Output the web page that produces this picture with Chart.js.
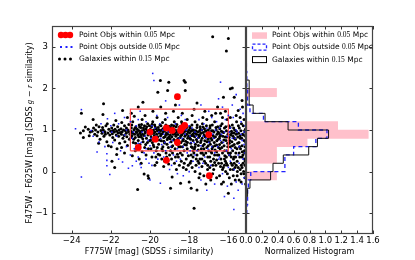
<!DOCTYPE html>
<html>
<head>
<meta charset="utf-8">
<script src="https://cdn.jsdelivr.net/npm/chart.js@4.4.0/dist/chart.umd.min.js"></script>
<style>
  body { margin: 0; background: #fff; }
  #wrap { position: relative; width: 415px; height: 260px; }
  #wrap canvas { position: absolute; left: 0; top: 0; }
</style>
</head>
<body>
<div id="wrap">
  <canvas id="scatter" width="415" height="260"></canvas>
  <canvas id="hist" width="415" height="260"></canvas>
</div>
<script>
// axis ticks
const xTicks = [-24, -22, -20, -18, -16];
const yTicks = [-1, 0, 1, 2, 3];
const histTicks = [0, 0.2, 0.4, 0.6, 0.8, 1.0, 1.2, 1.4, 1.6];

// red selection box (F775W range, colour range)
const boxX = [-21, -16];
const boxY = [0.5, 1.5];

// [F775W, F475W-F625W]
const pointObjsWithin = [
  [-18.6, 1.80], [-20.0, 0.95], [-19.16, 1.05], [-18.87, 0.99], [-18.44, 0.99], [-18.37, 1.05],
  [-18.23, 1.11], [-17.0, 0.89], [-19.73, 0.78], [-18.6, 0.70], [-20.6, 0.58], [-19.16, 0.27],
  [-16.97, -0.10]
];

const pointObjsOutside = [
  [-23.5, 1.49], [-23.8, 1.03], [-23.0, 0.99], [-22.6, 0.71], [-22.17, 1.27], [-23.5, -0.13],
  [-22.7, 0.47], [-22.2, 0.43], [-22.2, 0.27], [-22.2, 0.14], [-21.4, 0.23], [-22.05, -0.07],
  [-20.9, 0.14], [-21.1, 0.08], [-20.6, 0.35], [-20.5, 0.17], [-20.45, 0.1], [-20.2, 0.3],
  [-20.05, 0.2], [-19.86, 2.36], [-19.8, 2.19], [-16.4, 2.15], [-19.47, -0.28], [-15.72, -0.64],
  [-15.72, -0.91], [-22.9, 0.85], [-22.4, 0.95], [-22.0, 1.1], [-21.9, 0.7], [-21.6, 1.15],
  [-21.5, 0.5], [-21.3, 0.88], [-21.2, 0.6], [-21.0, 1.2], [-20.9, 0.8], [-20.8, 0.55],
  [-20.7, 1.1], [-20.6, 0.68], [-20.4, 0.95], [-20.3, 0.45], [-20.2, 1.2], [-20.1, 0.75],
  [-20.0, 0.62], [-19.9, 1.1], [-19.8, 0.45], [-19.7, 0.85], [-19.6, 0.3], [-19.5, 1.15],
  [-19.4, 0.65], [-19.3, 0.9], [-19.2, 0.5], [-19.1, 1.3], [-19.0, 0.7], [-18.9, 0.95],
  [-18.8, 0.4], [-18.7, 1.15], [-18.6, 0.55], [-18.5, 0.8], [-18.4, 1.35], [-18.3, 0.6],
  [-18.2, 0.9], [-18.1, 0.45], [-18.0, 1.1], [-17.9, 0.7], [-17.8, 0.25], [-17.7, 0.95],
  [-17.6, 0.5], [-17.5, 1.25], [-17.4, 0.62], [-17.3, 0.85], [-17.2, 0.35], [-17.1, 1.05],
  [-17.0, 0.7], [-16.9, 0.15], [-16.8, 0.9], [-16.7, 0.45], [-16.6, 1.2], [-16.5, 0.3],
  [-16.4, 0.75], [-16.3, -0.05], [-16.2, 0.95], [-16.1, 0.5], [-16.0, 1.35], [-15.9, 0.25],
  [-15.8, 0.8], [-15.7, 0.05], [-15.6, 1.0], [-15.5, 0.4], [-15.4, 1.5], [-15.3, -0.3],
  [-15.2, 0.65], [-15.15, 1.1], [-15.25, 0.3], [-21.8, 1.4], [-20.5, 1.45], [-19.2, 1.7],
  [-18.5, 1.6], [-17.4, 1.6], [-16.5, 1.75], [-15.6, 1.85], [-20.0, -0.2], [-18.3, -0.1],
  [-17.1, -0.45], [-16.7, -0.3], [-16.2, -0.6], [-15.5, -0.45], [-19.0, 0.05], [-18.0, 0.0],
  [-17.5, 0.1], [-16.0, 0.1], [-21.6, 0.3], [-20.7, 0.25], [-19.55, 0.95], [-18.95, 0.6],
  [-18.25, 1.05], [-17.65, 0.85], [-17.05, 0.55], [-16.45, 1.05], [-15.85, 0.55], [-15.35, 0.9],
  [-20.25, 0.85], [-19.35, 1.0], [-18.65, 0.25], [-17.95, 0.5], [-17.25, 1.15], [-16.55, 0.6],
  [-15.95, 0.95], [-15.45, 0.2], [-16.85, 1.3], [-16.15, 1.25], [-15.75, 1.3], [-15.25, 1.4],
  [-15.1, 0.0],
  [-21.7, 0.85], [-21.2, 1.0], [-20.85, 0.95], [-20.45, 0.7], [-20.15, 0.95], [-19.95, 0.8],
  [-19.75, 1.05], [-19.45, 0.8], [-19.25, 0.7], [-19.05, 0.95], [-18.85, 0.75], [-18.75, 1.0],
  [-18.55, 0.95], [-18.35, 0.8], [-18.15, 1.0], [-17.95, 0.85], [-17.85, 1.05], [-17.75, 0.7],
  [-17.55, 0.8], [-17.35, 1.0], [-17.15, 0.8], [-16.95, 0.95], [-16.75, 0.8], [-16.65, 1.0],
  [-16.35, 0.9], [-16.25, 0.7], [-16.05, 0.85], [-15.9, 1.05], [-15.65, 0.8], [-15.55, 0.95],
  [-15.3, 0.75], [-15.2, 0.95], [-21.0, 0.4], [-20.2, 0.55], [-19.3, 0.35], [-18.9, 0.15],
  [-18.45, 0.3], [-17.7, 0.4], [-17.3, 0.2], [-16.85, 0.6], [-16.45, 0.35], [-15.95, 0.4],
  [-15.45, 0.6], [-15.15, 0.45], [-22.5, 1.15], [-21.3, 1.3], [-20.6, 1.25], [-19.65, 1.35],
  [-18.2, 1.25], [-17.0, 1.45], [-16.3, 1.55], [-15.8, 1.6], [-15.35, 1.2], [-22.3, 0.6],
  [-21.95, 0.95], [-19.9, 0.15], [-18.6, -0.05], [-17.4, -0.2], [-16.05, -0.35], [-15.6, -0.25],
  [-15.2, -0.15]
];

const galaxies = [
  [-23.55, 0.93], [-23.4, 0.98], [-23.4, 0.82], [-23.3, 1.07], [-23.15, 1.02], [-23.05, 0.95], [-23.5, 1.40], [-23.1, 0.86],
  [-22.95, 0.97], [-22.9, 1.25], [-22.88, 1.05], [-22.82, 0.9], [-22.78, 1.0], [-22.7, 0.86], [-22.66, 0.95], [-22.6, 1.08],
  [-22.55, 0.78], [-22.5, 0.99], [-22.74, 1.12], [-22.62, 0.68],
  [-22.45, 0.92], [-22.37, 1.63], [-22.4, 1.37], [-22.38, 1.0], [-22.35, 0.85], [-22.3, 0.96], [-22.25, 1.1], [-22.2, 0.72],
  [-22.15, 0.93], [-22.1, 1.02], [-22.05, 0.88], [-22.0, 0.97], [-22.42, 1.06], [-22.28, 0.9], [-22.12, 0.62], [-22.18, 1.15],
  [-21.95, 1.05], [-21.92, 0.91], [-21.9, 0.82], [-21.88, 0.99], [-21.85, 1.12], [-21.82, 0.95], [-21.8, 0.76], [-21.78, 1.02],
  [-21.74, 1.23], [-21.72, 0.88], [-21.7, 0.97], [-21.68, 0.55], [-21.65, 1.08], [-21.62, 0.93], [-21.6, 0.85], [-21.58, 1.0],
  [-21.55, 0.68], [-21.52, 0.94], [-21.94, 0.25], [-21.8, 0.10], [-21.7, 0.41], [-21.98, 0.6],
  [-21.48, 1.03], [-21.46, 0.9], [-21.44, 1.18], [-21.4, 1.47], [-21.42, 0.96], [-21.38, 0.8], [-21.35, 1.0], [-21.32, 0.87],
  [-21.3, 1.1], [-21.28, 0.72], [-21.25, 0.98], [-21.22, 0.92], [-21.2, 1.05], [-21.18, 0.84], [-21.15, 0.63], [-21.12, 1.0],
  [-21.1, 0.95], [-21.08, 1.13], [-21.05, 0.78], [-21.02, 0.9], [-21.3, 0.45], [-21.15, 1.3], [-21.45, 0.58],
  [-20.98, 0.97], [-20.95, 1.05], [-20.92, 0.86], [-20.9, 0.94], [-20.88, 1.2], [-20.85, 0.7], [-20.82, 1.0], [-20.8, 1.33],
  [-20.78, 0.9], [-20.75, 0.82], [-20.72, 1.08], [-20.7, 0.96], [-20.68, 0.6], [-20.65, 1.02], [-20.62, 0.88], [-20.6, 1.55],
  [-20.6, 0.75], [-20.58, 0.99], [-20.55, 1.12], [-20.52, 0.92], [-20.63, -0.43], [-20.9, 0.38], [-20.75, 0.5], [-20.55, 0.3],
  [-20.95, 1.4],
  [-20.48, 0.95], [-20.46, 1.06], [-20.44, 0.83], [-20.42, 0.98], [-20.4, 1.25], [-20.38, 0.9], [-20.36, 1.67], [-20.35, 0.72],
  [-20.32, 1.0], [-20.3, -0.06], [-20.3, 0.87], [-20.28, 1.1], [-20.25, 0.93], [-20.22, 0.65], [-20.2, 1.03], [-20.18, 0.8],
  [-20.15, 0.97], [-20.12, 1.15], [-20.1, -0.1], [-20.1, 0.88], [-20.07, -0.16], [-20.05, 0.99], [-20.02, 0.74], [-20.4, 0.48],
  [-20.2, 0.4], [-20.45, 0.2], [-20.25, 1.35], [-20.08, 0.55],
  [-19.98, 1.02], [-19.96, 0.9], [-19.94, 0.83], [-19.92, 1.08], [-19.9, 0.96], [-19.88, 0.7], [-19.86, 1.2], [-19.84, 0.92],
  [-19.82, 1.0], [-19.8, 0.6], [-19.78, 0.87], [-19.76, 1.12], [-19.74, 0.95], [-19.72, 0.78], [-19.7, 1.03], [-19.68, 0.5],
  [-19.66, 0.9], [-19.64, 1.3], [-19.62, 0.98], [-19.6, 1.91], [-19.6, 0.84], [-19.58, 1.06], [-19.56, 0.66], [-19.54, 0.93],
  [-19.52, 1.0], [-19.47, 2.19], [-19.9, 0.35], [-19.75, 0.15], [-19.58, 0.42], [-19.85, 1.45], [-19.65, 0.22], [-19.95, 0.55],
  [-19.48, 0.97], [-19.46, 0.86], [-19.44, 1.1], [-19.42, 0.74], [-19.4, 1.0], [-19.38, 0.91], [-19.36, 1.18], [-19.34, 0.6],
  [-19.32, 0.95], [-19.3, 0.82], [-19.28, 1.05], [-19.26, 0.69], [-19.24, 0.99], [-19.22, 1.25], [-19.2, 0.88], [-19.18, 0.45],
  [-19.16, 0.93], [-19.14, 1.07], [-19.12, 0.77], [-19.1, 1.95], [-19.1, 0.9], [-19.08, 1.02], [-19.06, 0.58], [-19.04, 2.15],
  [-19.04, 0.96], [-19.02, 0.84], [-19.4, 0.3], [-19.3, 0.12], [-19.2, 1.4], [-19.15, 0.35], [-19.45, 1.55], [-19.05, 0.18],
  [-19.35, 0.5],
  [-18.98, 1.0], [-18.96, 0.88], [-18.95, -0.40], [-18.94, 0.95], [-18.92, 0.72], [-18.9, 1.12], [-18.88, 0.84], [-18.87, -0.13],
  [-18.86, 0.98], [-18.84, 0.62], [-18.82, 1.05], [-18.8, 0.9], [-18.78, 0.77], [-18.76, 1.2], [-18.74, 0.93], [-18.72, 0.55],
  [-18.7, 1.0], [-18.68, 0.85], [-18.66, 1.08], [-18.64, 0.68], [-18.62, 0.96], [-18.6, 0.42], [-18.58, 0.89], [-18.56, 1.3],
  [-18.54, 0.8], [-18.52, 1.02], [-18.9, 0.3], [-18.75, 0.2], [-18.65, 0.05], [-18.55, 0.35], [-18.8, 1.45], [-18.7, 1.6],
  [-18.95, 0.5], [-18.6, 0.65],
  [-18.48, 0.94], [-18.46, 0.82], [-18.44, -0.28], [-18.44, 1.06], [-18.42, 0.7], [-18.4, 0.98], [-18.38, 0.88], [-18.36, 1.15],
  [-18.34, 0.6], [-18.32, 0.92], [-18.3, 0.78], [-18.28, 1.03], [-18.26, 2.19], [-18.26, 0.5], [-18.24, 0.96], [-18.22, 0.85],
  [-18.2, 2.15], [-18.2, 1.1], [-18.18, 0.73], [-18.16, 0.99], [-18.14, 0.64], [-18.12, 0.9], [-18.1, 1.25], [-18.08, 0.8],
  [-18.06, 0.95], [-18.04, 0.38], [-18.02, 1.0], [-18.2, 1.95], [-18.0, -0.25], [-18.4, 0.25], [-18.3, 0.1], [-18.15, 0.3],
  [-18.05, 0.15], [-18.35, 1.4], [-18.45, 0.45], [-18.25, 0.2], [-18.1, 0.55],
  [-17.98, 0.93], [-17.96, 0.8], [-17.94, 1.04], [-17.92, 0.68], [-17.9, -0.40], [-17.9, 0.97], [-17.88, 0.87], [-17.86, 1.12],
  [-17.84, 0.58], [-17.82, 0.9], [-17.8, 0.75], [-17.78, 1.0], [-17.75, -0.88], [-17.76, 0.45], [-17.74, 0.94], [-17.72, 0.84],
  [-17.7, 1.2], [-17.68, 0.66], [-17.66, 0.98], [-17.64, 0.3], [-17.62, 0.89], [-17.6, -0.44], [-17.6, 1.06], [-17.58, 0.72],
  [-17.56, 0.95], [-17.54, 0.52], [-17.52, 0.82], [-17.95, 0.2], [-17.85, 0.1], [-17.8, 0.35], [-17.7, 0.0], [-17.65, 0.15],
  [-17.55, 0.25], [-17.85, 1.35], [-17.75, 1.5], [-17.6, 1.65], [-17.9, 0.4], [-17.7, 0.6], [-17.5, -0.15],
  [-17.48, 0.97], [-17.46, 0.86], [-17.44, 1.08], [-17.42, 0.7], [-17.4, 0.92], [-17.38, 0.55], [-17.36, 1.0], [-17.34, 0.8],
  [-17.32, 1.15], [-17.3, 0.62], [-17.28, 0.94], [-17.26, 0.4], [-17.24, 0.88], [-17.22, 1.03], [-17.2, 0.74], [-17.18, 0.97],
  [-17.16, 0.2], [-17.14, 0.85], [-17.12, 1.1], [-17.1, 0.58], [-17.08, 0.91], [-17.06, 0.05], [-17.04, 0.78], [-17.02, 1.0],
  [-17.45, 0.3], [-17.35, 0.12], [-17.25, -0.1], [-17.15, -0.3], [-17.05, 0.35], [-17.3, 1.3], [-17.2, 1.45], [-17.1, 1.25],
  [-17.4, 0.45], [-17.0, 0.5], [-17.45, -0.05], [-17.22, 0.25],
  [-16.98, 0.94], [-16.96, 0.83], [-16.95, 0.1], [-16.94, 1.05], [-16.92, 0.66], [-16.9, 0.9], [-16.88, 0.48], [-16.86, 0.98],
  [-16.84, 0.76], [-16.82, 1.12], [-16.8, 3.24], [-16.8, 0.6], [-16.78, 0.87], [-16.76, 0.3], [-16.74, 0.95], [-16.72, 0.7],
  [-16.7, 1.2], [-16.68, 0.52], [-16.66, 0.84], [-16.64, 0.15], [-16.62, 1.0], [-16.6, 0.64], [-16.58, 0.9], [-16.56, 0.4],
  [-16.54, 1.08], [-16.52, 0.78], [-16.9, -0.2], [-16.8, -0.05], [-16.7, 0.22], [-16.6, -0.15], [-16.85, 1.35], [-16.65, 1.4],
  [-16.55, 1.55], [-16.75, 0.05], [-16.95, 0.35], [-16.6, 0.28], [-16.5, 0.58], [-16.85, 0.45],
  [-16.48, 0.92], [-16.46, 0.8], [-16.44, 1.03], [-16.42, 0.55], [-16.4, 0.88], [-16.38, 0.3], [-16.36, 0.97], [-16.34, 0.7],
  [-16.32, 1.15], [-16.3, 0.45], [-16.28, 0.85], [-16.26, 0.1], [-16.25, 1.79], [-16.24, 0.94], [-16.22, 0.62], [-16.2, 1.05],
  [-16.18, 0.38], [-16.16, 0.83], [-16.14, 0.0], [-16.12, 0.75], [-16.1, 2.9], [-16.1, 0.98], [-16.08, 0.5], [-16.06, 1.25],
  [-16.04, 0.68], [-16.02, 0.9], [-16.0, 3.2], [-16.0, -0.52], [-16.45, -0.1], [-16.35, 0.2], [-16.25, -0.25], [-16.15, 0.25],
  [-16.05, -0.05], [-16.4, 1.4], [-16.3, 1.3], [-16.2, 0.15], [-16.1, 0.35], [-16.45, 0.65], [-16.35, -0.3], [-16.15, 1.45],
  [-16.05, 0.15],
  [-15.98, 0.95], [-15.96, 0.82], [-15.94, 0.4], [-15.92, 1.06], [-15.9, 1.99], [-15.9, 0.6], [-15.88, 0.88], [-15.86, 0.2],
  [-15.84, 0.97], [-15.82, 0.72], [-15.8, 2.01], [-15.8, 1.12], [-15.78, 0.5], [-15.76, 0.85], [-15.74, 0.3], [-15.72, 0.93],
  [-15.7, 1.79], [-15.7, 0.65], [-15.68, 1.0], [-15.66, 0.1], [-15.64, 0.78], [-15.62, 0.45], [-15.6, 0.9], [-15.58, 1.2],
  [-15.56, 0.55], [-15.54, 0.0], [-15.52, 0.83], [-15.5, 1.47], [-15.95, -0.15], [-15.85, -0.3], [-15.75, 0.05], [-15.65, -0.2],
  [-15.55, 0.25], [-15.9, 1.3], [-15.6, 1.35], [-15.7, 0.35], [-15.8, 0.15], [-15.95, 0.68], [-15.55, -0.1], [-15.65, 0.58],
  [-15.48, 0.92], [-15.46, 0.7], [-15.44, 1.05], [-15.42, 0.35], [-15.4, 0.86], [-15.38, 0.55], [-15.36, 0.98], [-15.34, 0.15],
  [-15.32, 0.8], [-15.3, 1.71], [-15.3, 0.62], [-15.28, 1.55], [-15.28, 0.9], [-15.26, 0.4], [-15.24, 1.1], [-15.22, 0.0],
  [-15.2, 0.75], [-15.18, 0.5], [-15.16, 0.95], [-15.14, 0.25], [-15.12, 0.85], [-15.45, -0.2], [-15.35, -0.05], [-15.25, 0.2],
  [-15.15, -0.15], [-15.4, 1.3], [-15.2, 1.25], [-15.3, 0.1], [-15.45, 0.45], [-15.15, 0.6],
  [-20.97, 0.82], [-20.93, 1.12], [-20.87, 0.92], [-20.83, 0.78], [-20.77, 1.04], [-20.73, 0.68], [-20.67, 0.94], [-20.57, 0.84],
  [-20.53, 1.07], [-20.51, 0.65], [-20.47, 0.88], [-20.43, 1.13], [-20.37, 0.79], [-20.33, 1.05], [-20.27, 0.58], [-20.23, 0.96],
  [-20.17, 1.08], [-20.13, 0.7], [-20.09, 0.91], [-20.03, 1.1],
  [-19.97, 0.76], [-19.93, 0.98], [-19.89, 1.14], [-19.83, 0.64], [-19.79, 0.94], [-19.73, 1.07], [-19.69, 0.82], [-19.63, 0.58],
  [-19.59, 0.99], [-19.53, 0.76], [-19.49, 1.12], [-19.43, 0.9], [-19.39, 0.55], [-19.33, 1.03], [-19.29, 0.73], [-19.23, 0.84],
  [-19.19, 1.12], [-19.13, 0.66], [-19.09, 0.81], [-19.03, 1.09], [-19.5, 0.4], [-19.25, 0.25], [-19.7, 0.35], [-19.0, 0.4],
  [-18.97, 0.79], [-18.93, 1.06], [-18.89, 0.6], [-18.83, 0.93], [-18.79, 1.1], [-18.73, 0.74], [-18.69, 0.9], [-18.63, 1.13],
  [-18.59, 0.78], [-18.53, 0.6], [-18.49, 1.08], [-18.43, 0.86], [-18.39, 1.2], [-18.33, 0.74], [-18.29, 0.95], [-18.23, 0.65],
  [-18.19, 0.88], [-18.13, 1.06], [-18.09, 0.7], [-18.03, 0.85], [-18.85, 0.45], [-18.5, 0.15], [-18.35, 0.4], [-18.15, 0.05],
  [-18.7, 0.35], [-18.45, 0.6],
  [-17.97, 1.08], [-17.93, 0.78], [-17.89, 0.6], [-17.83, 1.0], [-17.79, 0.86], [-17.73, 0.55], [-17.69, 0.92], [-17.63, 0.77],
  [-17.59, 1.12], [-17.53, 0.63], [-17.49, 0.88], [-17.43, 1.02], [-17.39, 0.75], [-17.33, 0.45], [-17.29, 1.07], [-17.23, 0.66],
  [-17.19, 0.84], [-17.13, 0.98], [-17.09, 0.72], [-17.03, 0.62], [-17.8, 0.5], [-17.6, 0.4], [-17.35, 0.3], [-17.15, 0.45],
  [-17.9, 0.25], [-17.5, 0.2], [-17.25, 0.55], [-17.05, 0.15],
  [-16.97, 0.72], [-16.93, 1.1], [-16.89, 0.8], [-16.83, 0.55], [-16.79, 0.98], [-16.73, 0.82], [-16.69, 0.62], [-16.63, 1.06],
  [-16.59, 0.74], [-16.53, 0.95], [-16.49, 0.4], [-16.43, 0.85], [-16.39, 1.1], [-16.33, 0.58], [-16.29, 0.95], [-16.23, 0.76],
  [-16.19, 0.5], [-16.13, 1.08], [-16.09, 0.83], [-16.03, 0.6], [-16.9, 0.25], [-16.7, 0.4], [-16.5, 0.2], [-16.3, 0.05],
  [-16.1, 0.2], [-16.8, 0.15], [-16.6, 0.48], [-16.4, 0.12], [-16.2, 0.3], [-16.0, 0.45],
  [-15.97, 1.1], [-15.93, 0.75], [-15.89, 0.45], [-15.83, 0.92], [-15.79, 0.62], [-15.73, 1.05], [-15.69, 0.8], [-15.63, 0.35],
  [-15.59, 0.97], [-15.53, 0.68], [-15.49, 1.1], [-15.43, 0.6], [-15.39, 0.8], [-15.33, 1.15], [-15.29, 0.48], [-15.23, 0.88],
  [-15.19, 0.3], [-15.13, 1.02], [-15.11, 0.7], [-15.17, 0.45], [-15.9, 0.05], [-15.7, 0.2], [-15.5, 0.1], [-15.3, 0.35],
  [-15.15, 0.15], [-15.85, 0.35], [-15.6, 0.15], [-15.4, 0.05], [-15.2, -0.05], [-15.75, -0.1], [-15.35, -0.25], [-15.12, -0.3]
];

// histogram: lower bin edges in colour, bin width, normalized counts
const binLo = [-1.0, -0.8, -0.6, -0.4, -0.2, 0.0, 0.2, 0.4, 0.6, 0.8, 1.0, 1.2, 1.4, 1.6, 1.8, 2.0, 2.2, 2.4, 2.6, 2.8, 3.0, 3.2];
const binWidth = 0.2;
const histWithin   = [0, 0, 0, 0, 0.385, 0, 0.385, 0.385, 0.77, 1.54, 1.155, 0, 0, 0, 0.385, 0, 0, 0, 0, 0, 0, 0];
const histOutside  = [0.01, 0.02, 0.02, 0.03, 0.06, 0.49, 0.49, 0.60, 0.88, 1.02, 0.66, 0.22, 0.05, 0.02, 0.02, 0.01, 0.01, 0.005, 0, 0, 0, 0];
const histGalaxies = [0.005, 0.005, 0.02, 0.05, 0.31, 0.34, 0.47, 0.79, 0.90, 1.04, 0.53, 0.24, 0.09, 0.04, 0.04, 0.04, 0.01, 0.005, 0.005, 0.005, 0.005, 0.01];

const SANS = 'DejaVu Sans';
const SERIF = 'Liberation Serif';
Chart.defaults.font.family = SANS;
Chart.defaults.font.size = 8.5;
Chart.defaults.color = '#000';
Chart.defaults.animation = false;
Chart.defaults.plugins.legend.display = false;
Chart.defaults.plugins.tooltip.enabled = false;

function toPts(arr) {
    return arr.map(p => ({x: p[0], y: p[1]}));
}

function stepPts(vals) {
    let pts = [{x: 0, y: binLo[0]}];
    for (let i = 0; i < binLo.length; i++) {
        pts.push({x: vals[i], y: binLo[i]});
        pts.push({x: vals[i], y: binLo[i] + binWidth});
    }
    pts.push({x: 0, y: binLo[binLo.length - 1] + binWidth});
    return pts;
}

function fontFor(kind, size) {
    if (kind === 'm') return 'italic ' + size + 'px "' + SERIF + '"';
    if (kind === 'n') return size + 'px "' + SERIF + '"';
    return size + 'px "' + SANS + '"';
}

// text made of parts in different fonts
function drawParts(ctx, parts, x, y, size, align) {
    let w = 0;
    parts.forEach(p => { ctx.font = fontFor(p[1], size); w += ctx.measureText(p[0]).width; });
    let cx = align === 'center' ? x - w / 2 : x;
    ctx.textBaseline = 'middle';
    ctx.textAlign = 'left';
    ctx.fillStyle = '#000';
    parts.forEach(p => {
        ctx.font = fontFor(p[1], size);
        ctx.fillText(p[0], cx, y);
        cx += ctx.measureText(p[0]).width;
    });
}

const minus = v => (v < 0 ? '\u2212' : '') + Math.abs(v);

// frame with inward ticks on all four sides
const frame = {
    id: 'frame',
    afterDatasetsDraw(chart) {
        const {ctx, chartArea: a, scales} = chart;
        ctx.save();
        ctx.strokeStyle = '#333';
        ctx.lineWidth = 1;
        ctx.beginPath();
        scales.x.ticks.forEach(t => {
            const px = Math.round(scales.x.getPixelForValue(t.value)) + 0.5;
            ctx.moveTo(px, a.bottom); ctx.lineTo(px, a.bottom - 3.5);
            ctx.moveTo(px, a.top); ctx.lineTo(px, a.top + 3.5);
        });
        scales.y.ticks.forEach(t => {
            const py = Math.round(scales.y.getPixelForValue(t.value)) + 0.5;
            ctx.moveTo(a.left, py); ctx.lineTo(a.left + 3.5, py);
            ctx.moveTo(a.right, py); ctx.lineTo(a.right - 3.5, py);
        });
        ctx.stroke();
        ctx.strokeStyle = '#444';
        ctx.lineWidth = 1.2;
        ctx.strokeRect(a.left + 0.5, a.top + 0.5, a.right - a.left - 1, a.bottom - a.top - 1);
        ctx.restore();
    }
};

const scatterText = {
    id: 'scatterText',
    afterDraw(chart) {
        const ctx = chart.ctx;
        ctx.save();
        // legend
        const rows = [35, 47, 59];
        ctx.fillStyle = '#ff0000';
        [61, 65.5, 70].forEach(x => { ctx.beginPath(); ctx.arc(x, rows[0], 3.2, 0, Math.PI * 2); ctx.fill(); });
        ctx.fillStyle = '#2020ff';
        [61, 66.5, 71.5].forEach(x => { ctx.fillRect(x - 1, rows[1] - 1, 2, 2); });
        ctx.fillStyle = '#000';
        [59.5, 65, 70.5].forEach(x => { ctx.beginPath(); ctx.arc(x, rows[2], 1.5, 0, Math.PI * 2); ctx.fill(); });
        drawParts(ctx, [['Point Objs within ', 's'], ['0.05', 'n'], [' Mpc', 's']], 79, rows[0], 7.5, 'left');
        drawParts(ctx, [['Point Objs outside ', 's'], ['0.05', 'n'], [' Mpc', 's']], 79, rows[1], 7.5, 'left');
        drawParts(ctx, [['Galaxies within ', 's'], ['0.15', 'n'], [' Mpc', 's']], 79, rows[2], 7.5, 'left');
        // axis titles
        drawParts(ctx, [['F775W [mag] (SDSS ', 's'], ['i', 'm'], [' similarity)', 's']], 149, 252, 8, 'center');
        ctx.translate(30, 133);
        ctx.rotate(-Math.PI / 2);
        drawParts(ctx, [['F475W - F625W [mag] (SDSS ', 's'], ['g', 'm'], [' \u2212 ', 's'], ['r', 'm'], [' similarity)', 's']], 0, 0, 8, 'center');
        ctx.restore();
    }
};

const histText = {
    id: 'histText',
    afterDraw(chart) {
        const ctx = chart.ctx;
        ctx.save();
        const rows = [35.3, 47.2, 59.6];
        ctx.fillStyle = '#ffc0cb';
        ctx.fillRect(252, rows[0] - 3, 15, 6.5);
        ctx.strokeStyle = '#2222ff';
        ctx.lineWidth = 1.3;
        ctx.setLineDash([3, 2]);
        ctx.strokeRect(252.5, rows[1] - 3, 14, 6);
        ctx.setLineDash([]);
        ctx.strokeStyle = '#000';
        ctx.lineWidth = 1;
        ctx.strokeRect(252.5, rows[2] - 3, 14, 6);
        drawParts(ctx, [['Point Objs within ', 's'], ['0.05', 'n'], [' Mpc', 's']], 272, rows[0], 7.5, 'left');
        drawParts(ctx, [['Point Objs outside ', 's'], ['0.05', 'n'], [' Mpc', 's']], 272, rows[1], 7.5, 'left');
        drawParts(ctx, [['Galaxies within ', 's'], ['0.15', 'n'], [' Mpc', 's']], 272, rows[2], 7.5, 'left');
        drawParts(ctx, [['Normalized Histogram', 's']], 309.5, 252, 8, 'center');
        ctx.restore();
    }
};

new Chart(document.getElementById('scatter'), {
    type: 'scatter',
    data: {
        datasets: [{
            data: toPts(pointObjsWithin),
            backgroundColor: '#ff0000',
            borderWidth: 0,
            pointRadius: 3.4
        }, {
            data: toPts(pointObjsOutside),
            backgroundColor: '#2020ff',
            borderWidth: 0,
            pointStyle: 'rect',
            pointRadius: 1.1
        }, {
            data: [
                {x: boxX[0], y: boxY[0]}, {x: boxX[1], y: boxY[0]}, {x: boxX[1], y: boxY[1]},
                {x: boxX[0], y: boxY[1]}, {x: boxX[0], y: boxY[0]}
            ],
            showLine: true,
            borderColor: '#ff4c4c',
            borderWidth: 1.2,
            pointRadius: 0
        }, {
            data: toPts(galaxies),
            backgroundColor: '#000',
            borderWidth: 0,
            pointRadius: 1.5
        }]
    },
    options: {
        responsive: false,
        devicePixelRatio: 1,
        layout: {padding: {left: 0, top: 26, right: 169, bottom: 0}},
        scales: {
            x: {
                type: 'linear', min: -25, max: -15.1, offset: false,
                grid: {display: false, drawTicks: false}, border: {display: false},
                ticks: {autoSkip: false, maxRotation: 0, padding: 2, callback: minus},
                afterBuildTicks: s => { s.ticks = xTicks.map(v => ({value: v})); },
                afterFit: s => { s.height = 26; }
            },
            y: {
                type: 'linear', min: -1.5, max: 3.5, offset: false,
                grid: {display: false, drawTicks: false}, border: {display: false},
                ticks: {autoSkip: false, padding: 4, callback: minus},
                afterBuildTicks: s => { s.ticks = yTicks.map(v => ({value: v})); },
                afterFit: s => { s.width = 52; }
            }
        }
    },
    plugins: [frame, scatterText]
});

new Chart(document.getElementById('hist'), {
    type: 'scatter',
    data: {
        datasets: [{
            type: 'line',
            data: stepPts(histGalaxies),
            borderColor: '#111',
            borderWidth: 1,
            pointRadius: 0,
            fill: false,
            tension: 0
        }, {
            type: 'line',
            data: stepPts(histOutside),
            borderColor: '#2222ff',
            borderWidth: 1.3,
            borderDash: [4, 3],
            pointRadius: 0,
            fill: false,
            tension: 0
        }, {
            type: 'bar',
            indexAxis: 'y',
            data: binLo.map((lo, i) => ({x: histWithin[i], y: lo + binWidth / 2})),
            backgroundColor: '#ffc0cb',
            borderWidth: 0,
            barPercentage: 1,
            categoryPercentage: 1
        }]
    },
    options: {
        responsive: false,
        devicePixelRatio: 1,
        layout: {padding: {left: 0, top: 26, right: 42, bottom: 0}},
        scales: {
            x: {
                type: 'linear', min: 0, max: 1.6, offset: false,
                grid: {display: false, drawTicks: false}, border: {display: false},
                ticks: {autoSkip: false, maxRotation: 0, padding: 2, callback: v => v.toFixed(1)},
                afterBuildTicks: s => { s.ticks = histTicks.map(v => ({value: v})); },
                afterFit: s => { s.height = 26; }
            },
            y: {
                type: 'linear', min: -1.5, max: 3.5, offset: false,
                grid: {display: false, drawTicks: false}, border: {display: false},
                ticks: {display: false},
                afterBuildTicks: s => { s.ticks = yTicks.map(v => ({value: v})); },
                afterFit: s => { s.width = 246; }
            }
        }
    },
    plugins: [frame, histText]
});
</script>
</body>
</html>
